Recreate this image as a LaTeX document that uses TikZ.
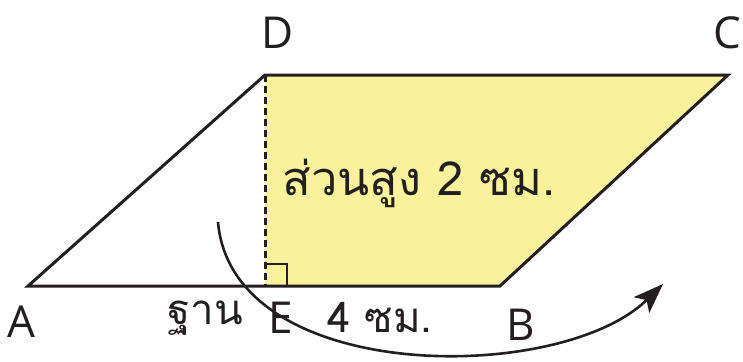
\documentclass[tikz,border=0pt]{standalone}
\usepackage{fontspec}
\setmainfont{Open Sans}
\newfontfamily\thaifont[Script=Thai]{Loma}
\usetikzlibrary{arrows.meta}
\definecolor{yfill}{HTML}{F8F29C}
\definecolor{ink}{HTML}{231F20}
\begin{document}
\begin{tikzpicture}[x=1pt,y=-1pt,
  edge/.style={draw=ink,line width=3pt,line join=miter},
  ptlabel/.style={font=\fontsize{44}{50}\selectfont,text=ink,inner sep=0pt},
  thlabel/.style={font=\thaifont\fontsize{42}{50}\selectfont,text=ink,inner sep=0pt}]
\useasboundingbox (0,0) rectangle (743,361);
\coordinate (A) at (28,286);
\coordinate (B) at (500,286);
\coordinate (C) at (728,75);
\coordinate (D) at (265,75);
\coordinate (E) at (265,286);
\fill[yfill] (E) -- (D) -- (C) -- (B) -- cycle;
\draw[ink,line width=3pt,dash pattern=on 7pt off 4pt] (D) -- (E);
\draw[ink,line width=1.6pt] ([xshift=22pt]E) -- ([xshift=22pt,yshift=22pt]E) -- ([yshift=22pt]E);
\draw[edge] (A) -- (B) -- (C) -- (D) -- cycle;
\coordinate (s) at (218,222);
\coordinate (t) at (663,284);
\draw[ink,line width=2.6pt,-{Stealth[length=30pt,width=22pt,inset=7pt]}] (s) .. controls (232,385) and (560,385) .. (t);
\node[ptlabel] (lD) at (278,33) {D};
\node[ptlabel] (lC) at (727,33) {C};
\node[ptlabel] (lA) at (21,322) {A};
\node[ptlabel] (lB) at (521,325) {B};
\node[ptlabel] (lE) at (281,318) {E};
\node[thlabel] (base) at (205,318) {ฐาน};
\node[thlabel] (len) at (380,318) {4 ซม.};
\node[thlabel,font=\thaifont\fontsize{47}{54}\selectfont] (h) at (419,183) {ส่วนสูง 2 ซม.};
\end{tikzpicture}
\end{document}
